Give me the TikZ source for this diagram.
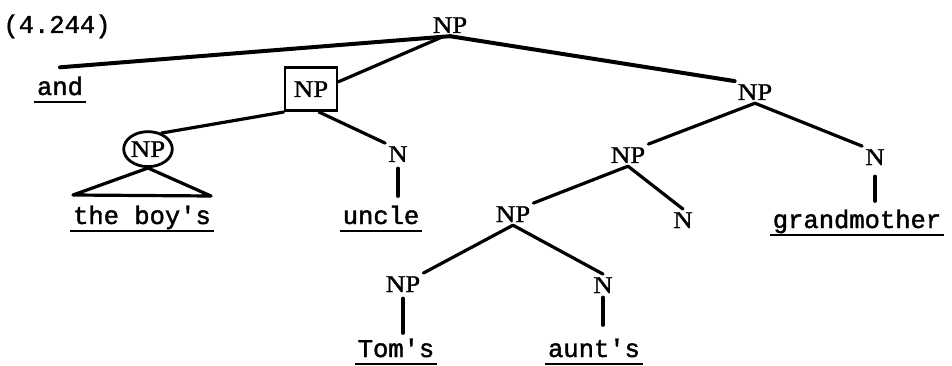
\documentclass[tikz,border=0pt]{standalone}
\usepackage{fontspec}
\usetikzlibrary{shapes.geometric}
\newfontfamily\wordfont[FakeBold=1.6]{Liberation Mono}
\newfontfamily\catfont[FakeStretch=1.12,FakeBold=1.2]{Liberation Serif}
\begin{document}
\begin{tikzpicture}[x=1pt,y=-1pt,
  cat/.style={font=\catfont\fontsize{24}{27}\selectfont, inner sep=3pt, anchor=base},
  word/.style={font=\wordfont\fontsize{25.5}{30}\selectfont, inner sep=3pt, anchor=base},
  branch/.style={line width=3.2pt, line cap=round, line join=round},
  topbranch/.style={line width=4pt, line cap=round},
  ul/.style={line width=2pt}]
\fill[white] (0,0) rectangle (952,366);
\useasboundingbox (0,0) rectangle (952,366);

% labels
\node[word] (num) at (57,33) {(4.244)};
\node[cat] (np0) at (450,33) {NP};
\node[word] (and) at (60,95) {and};
\node[cat, draw, line width=2.8pt, minimum width=52pt, minimum height=43pt] (npbox) at (311,97) {NP};
\node[cat, ellipse, draw, line width=2.8pt, minimum width=47pt, minimum height=35pt, inner sep=0pt] (npcirc) at (148,157) {NP};
\node[cat] (nu) at (398,162) {N};
\node[word] (boys) at (142,224) {the boy's};
\node[word] (uncle) at (381,224) {uncle};
\node[cat] (npR) at (755,100) {NP};
\node[cat] (npM) at (628,163) {NP};
\node[cat] (nR) at (875,165) {N};
\node[word] (grand) at (857,228) {grandmother};
\node[cat] (npL) at (513,222) {NP};
\node[cat] (nM) at (683,228) {N};
\node[cat] (npT) at (403,292) {NP};
\node[cat] (nA) at (603,293) {N};
\node[word] (toms) at (396,357) {Tom's};
\node[word] (aunts) at (594,357) {aunt's};

\coordinate (triL) at (73,195);
\coordinate (triR) at (211,196);

% underlines
\foreach \n in {and,boys,uncle,grand,toms,aunts}
  \draw[ul] ([yshift=-7pt]\n.base west) -- ([yshift=-7pt]\n.base east);

% branches
\draw[topbranch] (np0.south) -- ([yshift=6pt]and.north);
\draw[branch] ([xshift=-6pt]np0.south) -- (npbox.15);
\draw[topbranch] (np0.south) -- (npR.north west);
\draw[branch] (npbox.south west) -- (npcirc.50);
\draw[branch] ([xshift=8pt]npbox.south) -- (nu.north west);
\draw[branch, shorten <=3pt, shorten >=6pt] (nu.south) -- (nu.south |- uncle.north);
\draw[branch] (npcirc.south) -- (triL) -- (triR) -- cycle;
\draw[branch] (npR.south) -- (npM.north east);
\draw[branch] (npR.south) -- (nR.north west);
\draw[branch, shorten <=8pt, shorten >=5pt] (nR.south) -- (nR.south |- grand.north);
\draw[branch] (npM.south) -- (npL.north east);
\draw[branch] (npM.south) -- (nM.north);
\draw[branch] (npL.south) -- (npT.north east);
\draw[branch] (npL.south) -- (nA.north);
\draw[branch, shorten <=3pt, shorten >=2pt] (npT.south) -- (npT.south |- toms.north);
\draw[branch, shorten <=1pt, shorten >=10pt] (nA.south) -- (nA.south |- aunts.north);
\end{tikzpicture}
\end{document}
